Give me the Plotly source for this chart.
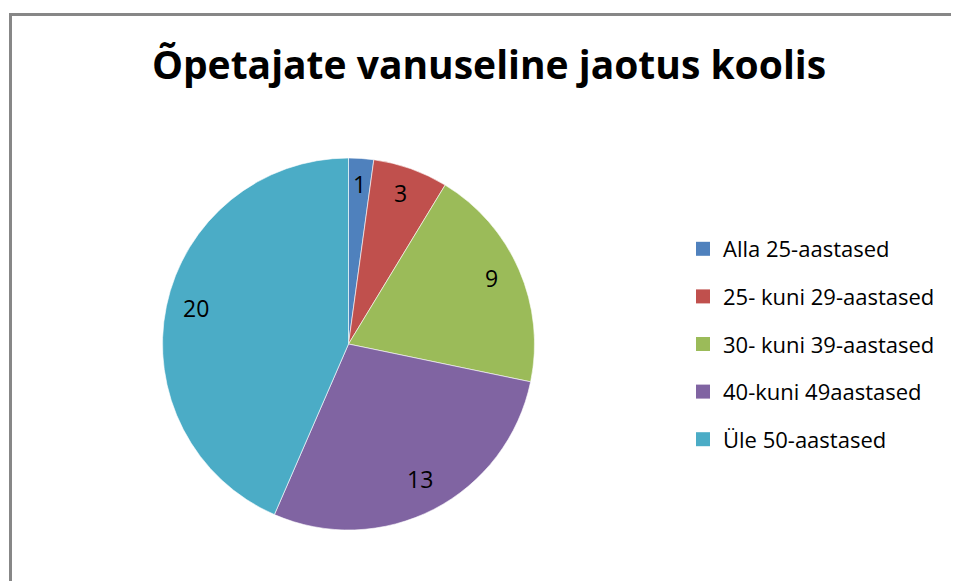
import math
import plotly.graph_objects as go

# ---- data ----
categories = ["Alla 25-aastased", "25- kuni 29-aastased", "30- kuni 39-aastased",
              "40-kuni 49aastased", "Üle 50-aastased"]
values = [1, 3, 9, 13, 20]
colors = ["#4F81BD", "#C0504D", "#9BBB59", "#8064A2", "#4BACC6"]
title_text = "Õpetajate vanuseline jaotus koolis"

W, H = 959, 581
OFF = 8  # page body margin offset


def px(x):
    return (x - OFF) / W


def py(y):
    return 1 - (y - OFF) / H


FONT = "Open Sans, sans-serif"

# pie geometry (screen pixels)
CX, CY, R = 348.5, 344.0, 186.0
LABEL_FRAC = 0.84

fig = go.Figure()

fig.add_trace(go.Pie(
    labels=categories, values=values, sort=False, direction="clockwise", rotation=0,
    marker=dict(colors=colors, line=dict(color="white", width=0.6)),
    textinfo="none", hoverinfo="label+value", showlegend=False,
    domain=dict(x=[px(CX - R), px(CX + R)], y=[py(CY + R), py(CY - R)]),
))

# legend entries (one group per category for spacing)
for cat, col in zip(categories, colors):
    fig.add_trace(go.Scatter(
        x=[None], y=[None], mode="markers", name=cat, legendgroup=cat,
        marker=dict(symbol="square", size=14, color=col, line=dict(width=0)),
        hoverinfo="skip",
    ))

# data labels computed from slice mid-angles
total = sum(values)
cum = 0
annotations = []
for v in values:
    mid = (cum + v / 2) / total * 2 * math.pi
    cum += v
    lx = CX + LABEL_FRAC * R * math.sin(mid)
    ly = CY - LABEL_FRAC * R * math.cos(mid)
    annotations.append(dict(
        x=px(lx), y=py(ly), xref="paper", yref="paper", text=str(v),
        showarrow=False, font=dict(family=FONT, size=23, color="#000000"),
        xanchor="center", yanchor="middle", yshift=4,
    ))

fig.update_layout(
    width=W, height=H,
    margin=dict(l=0, r=0, t=0, b=0),
    paper_bgcolor="white", plot_bgcolor="white",
    xaxis=dict(visible=False), yaxis=dict(visible=False),
    title=dict(text="<b>" + title_text + "</b>", x=px(489), xanchor="center",
               y=py(65), yanchor="middle",
               font=dict(family=FONT, size=39, color="#000000")),
    legend=dict(x=px(683), xanchor="left", y=py(228), yanchor="top",
                font=dict(family=FONT, size=22, color="#000000"),
                tracegroupgap=16, bgcolor="rgba(0,0,0,0)", borderwidth=0),
    annotations=annotations,
    shapes=[dict(type="rect", xref="paper", yref="paper",
                 x0=px(10.5), x1=1.05, y0=-0.05, y1=py(14.5),
                 line=dict(color="#878787", width=3), fillcolor="rgba(0,0,0,0)",
                 layer="below")],
    showlegend=True,
)

fig.write_html("out.html")
